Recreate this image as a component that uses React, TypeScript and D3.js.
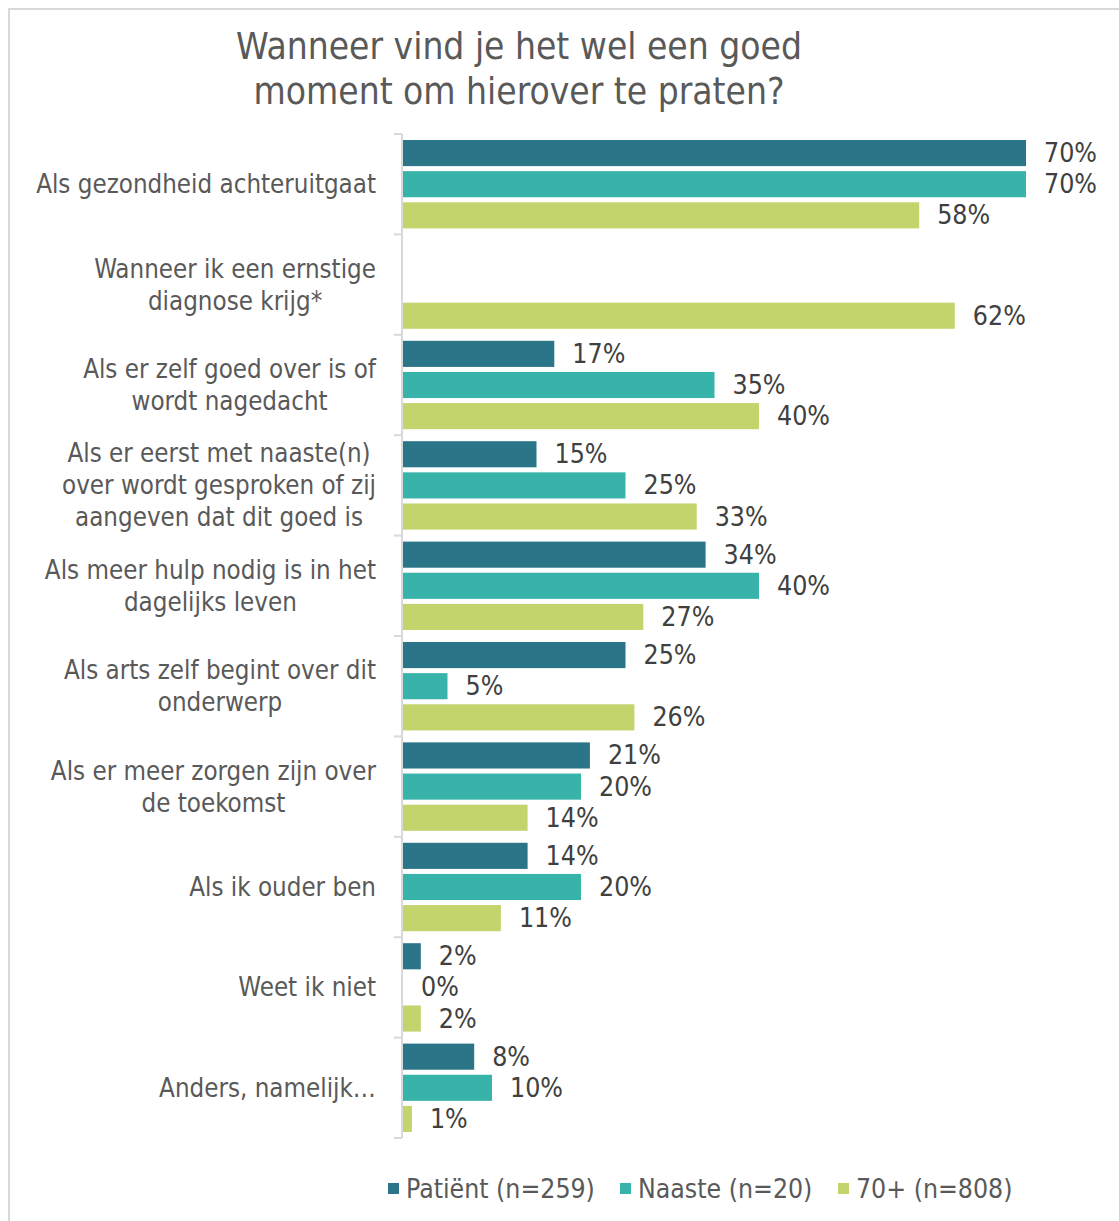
import React, { useEffect, useRef } from "react";
import * as d3 from "d3";

const categories: string[][] = [
  ["Als gezondheid achteruitgaat"],
  ["Wanneer ik een ernstige", "diagnose krijg*"],
  ["Als er zelf goed over is of", "wordt nagedacht"],
  ["Als er eerst met naaste(n)", "over wordt gesproken of zij", "aangeven dat dit goed is"],
  ["Als meer hulp nodig is in het", "dagelijks leven"],
  ["Als arts zelf begint over dit", "onderwerp"],
  ["Als er meer zorgen zijn over", "de toekomst"],
  ["Als ik ouder ben"],
  ["Weet ik niet"],
  ["Anders, namelijk…"],
];

const seriesNames = ["Patiënt (n=259)", "Naaste (n=20)", "70+ (n=808)"];
const seriesColors = ["#2b7589", "#38b3aa", "#c4d46c"];

const patient: (number | null)[] = [70, null, 17, 15, 34, 25, 21, 14, 2, 8];
const naaste: (number | null)[] = [70, null, 35, 25, 40, 5, 20, 20, 0, 10];
const plus70: (number | null)[] = [58, 62, 40, 33, 27, 26, 14, 11, 2, 1];

const titleLines = ["Wanneer vind je het wel een goed", "moment om hierover te praten?"];

const FONT = "'DejaVu Sans Condensed', 'DejaVu Sans', sans-serif";

export default function App() {
  const ref = useRef<SVGSVGElement | null>(null);

  useEffect(() => {
    const svg = d3.select(ref.current);
    svg.selectAll("*").remove();

    const values = [patient, naaste, plus70];
    const catIdx = categories.map((_, i) => String(i));

    const y = d3.scaleBand<string>().domain(catIdx).range([134, 1138]);
    const inner = d3
      .scaleBand<number>()
      .domain([0, 1, 2])
      .range([6, y.bandwidth() - 6])
      .paddingInner(5 / 31);
    const x = d3.scaleLinear().domain([0, 100]).range([403, 1293]);

    // border
    svg
      .append("rect")
      .attr("x", 9)
      .attr("y", 9)
      .attr("width", 1200)
      .attr("height", 1300)
      .attr("fill", "#fff")
      .attr("stroke", "#d9d9d9")
      .attr("stroke-width", 2);

    // title
    const title = svg
      .append("text")
      .attr("text-anchor", "middle")
      .attr("font-family", FONT)
      .attr("font-size", 36.8)
      .attr("fill", "#595959");
    titleLines.forEach((t, i) => {
      title
        .append("tspan")
        .attr("x", 519)
        .attr("y", 59 + i * 45)
        .text(t);
    });

    // axis line + ticks
    const axisG = svg.append("g");
    axisG
      .append("line")
      .attr("x1", 402)
      .attr("x2", 402)
      .attr("y1", 134)
      .attr("y2", 1138)
      .attr("stroke", "#d9d9d9")
      .attr("stroke-width", 2);
    const tickYs = catIdx.map((c) => y(c)!).concat([1138]);
    axisG
      .selectAll("line.tick")
      .data(tickYs)
      .enter()
      .append("line")
      .attr("class", "tick")
      .attr("x1", 394)
      .attr("x2", 402)
      .attr("y1", (d) => d)
      .attr("y2", (d) => d)
      .attr("stroke", "#d9d9d9")
      .attr("stroke-width", 2);

    // bars
    values.forEach((vals, s) => {
      const g = svg.append("g");
      vals.forEach((v, i) => {
        if (v === null) return;
        const by = y(String(i))! + inner(s)!;
        g.append("rect")
          .attr("x", x(0))
          .attr("y", by)
          .attr("width", x(v) - x(0))
          .attr("height", inner.bandwidth())
          .attr("fill", seriesColors[s]);
        g.append("text")
          .attr("x", x(v) + 18)
          .attr("y", by + inner.bandwidth() / 2 + 9)
          .attr("font-family", FONT)
          .attr("font-size", 26.5)
          .attr("fill", "#404040")
          .text(`${v}%`);
      });
    });

    // category labels
    categories.forEach((lines, i) => {
      const cy = y(String(i))! + y.bandwidth() / 2;
      const lh = 32;
      const t = svg
        .append("text")
        .attr("font-family", FONT)
        .attr("font-size", 25.7)
        .attr("fill", "#595959")
        .attr("text-anchor", "middle");
      const spans = lines.map((l, k) =>
        t
          .append("tspan")
          .attr("y", cy + (k - (lines.length - 1) / 2) * lh + 9)
          .text(l)
      );
      const widths = spans.map((sp) => (sp.node() as SVGTSpanElement).getComputedTextLength());
      const maxW = Math.max(...widths);
      spans.forEach((sp) => sp.attr("x", 376 - maxW / 2));
    });

    // legend
    const legendX = [388, 620, 838];
    seriesNames.forEach((n, s) => {
      svg
        .append("rect")
        .attr("x", legendX[s])
        .attr("y", 1183)
        .attr("width", 11)
        .attr("height", 11)
        .attr("fill", seriesColors[s]);
      svg
        .append("text")
        .attr("x", legendX[s] + 18)
        .attr("y", 1198)
        .attr("font-family", FONT)
        .attr("font-size", 26.4)
        .attr("fill", "#595959")
        .text(n);
    });
  }, []);

  return (
    <svg
      ref={ref}
      width={1119}
      height={1221}
      style={{ position: "absolute", left: 0, top: 0, background: "#fff" }}
    />
  );
}
